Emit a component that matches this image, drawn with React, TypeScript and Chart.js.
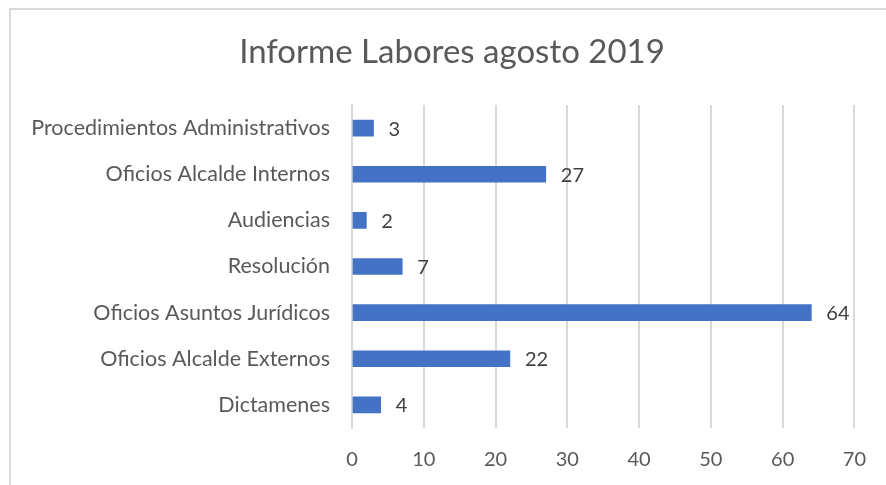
import React, { useEffect, useRef } from "react";
import { Chart, registerables } from "chart.js";

Chart.register(...registerables);

const title = "Informe Labores agosto 2019";
const categories = [
  "Procedimientos Administrativos",
  "Oficios Alcalde Internos",
  "Audiencias",
  "Resolución",
  "Oficios Asuntos Jurídicos",
  "Oficios Alcalde Externos",
  "Dictamenes",
];
const values = [3, 27, 2, 7, 64, 22, 4];
const xMin = 0;
const xMax = 70;
const xStep = 10;

const FONT = "Lato, 'Open Sans', sans-serif";

export default function App() {
  const ref = useRef<HTMLCanvasElement | null>(null);

  useEffect(() => {
    if (!ref.current) return;
    const labelPlugin = {
      id: "valueLabels",
      afterDatasetsDraw(chart: any) {
        const ctx = chart.ctx;
        const meta = chart.getDatasetMeta(0);
        ctx.save();
        ctx.font = `20px ${FONT}`;
        ctx.fillStyle = "#404040";
        ctx.textAlign = "left";
        ctx.textBaseline = "middle";
        meta.data.forEach((bar: any, i: number) => {
          ctx.fillText(String(values[i]), bar.x + 15, bar.y + 1);
        });
        ctx.restore();
      },
    };
    const titlePlugin = {
      id: "customTitle",
      afterDraw(chart: any) {
        const ctx = chart.ctx;
        ctx.save();
        ctx.font = `33px ${FONT}`;
        ctx.fillStyle = "#595959";
        ctx.textAlign = "center";
        ctx.textBaseline = "alphabetic";
        ctx.fillText(title, 452, 63);
        ctx.restore();
      },
    };
    const chart = new Chart(ref.current, {
      type: "bar",
      data: {
        labels: categories,
        datasets: [
          {
            data: values,
            backgroundColor: "#4472C4",
            barThickness: 16,
          },
        ],
      },
      options: {
        indexAxis: "y",
        responsive: false,
        animation: false,
        layout: { padding: { left: 0, right: 31, top: 105, bottom: 0 } },
        plugins: {
          legend: { display: false },
          title: { display: false },
          tooltip: { enabled: false },
        },
        scales: {
          x: {
            min: xMin,
            max: xMax,
            ticks: {
              stepSize: xStep,
              color: "#595959",
              font: { family: FONT, size: 20 },
              padding: 20,
            },
            grid: { color: "#d9d9d9", lineWidth: 2, drawTicks: false },
            border: { display: false },
            afterFit: (s: any) => {
              s.height = 485 - 428;
            },
          },
          y: {
            ticks: {
              color: "#595959",
              font: { family: FONT, size: 21.5 },
              padding: 22,
            },
            grid: { display: false, drawTicks: false },
            border: { display: true, color: "#d9d9d9", width: 2 },
            afterFit: (s: any) => {
              s.width = 352;
            },
          },
        },
      },
      plugins: [labelPlugin, titlePlugin],
    });
    return () => chart.destroy();
  }, []);

  return (
    <div
      style={{
        position: "fixed",
        left: 0,
        top: 0,
        width: 886,
        height: 485,
        overflow: "hidden",
        background: "#fff",
      }}
    >
      <div
        style={{
          position: "absolute",
          left: 9,
          top: 8,
          width: 1000,
          height: 1000,
          border: "2px solid #d9d9d9",
        }}
      />
      <canvas
        ref={ref}
        width={886}
        height={485}
        style={{ position: "absolute", left: 0, top: 0, width: 886, height: 485 }}
      />
    </div>
  );
}
